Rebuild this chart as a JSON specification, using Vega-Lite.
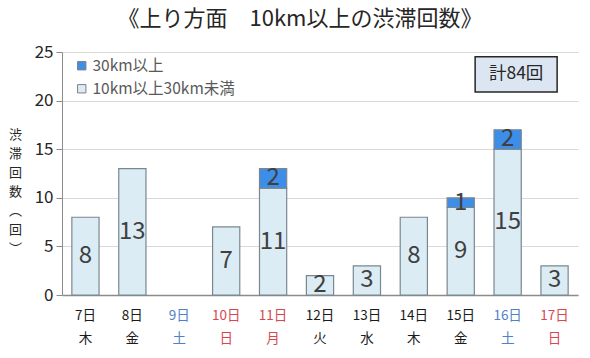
{
  "$schema": "https://vega.github.io/schema/vega-lite/v6.json",
  "width": 516,
  "height": 243,
  "autosize": {"type": "none"},
  "padding": {"left": 62, "top": 52, "right": 12, "bottom": 63},
  "background": "white",
  "config": {
    "font": "Noto Sans CJK JP",
    "view": {"stroke": null},
    "axis": {"font": "Noto Sans CJK JP"}
  },
  "title": {
    "text": "《上り方面　10km以上の渋滞回数》",
    "fontSize": 22,
    "fontWeight": "normal",
    "color": "#262626",
    "anchor": "middle",
    "offset": 12,
    "dx": -20
  },
  "data": {
    "values": [
      {"day": "7日 木", "type": "10km以上30km未満", "count": 8},
      {"day": "8日 金", "type": "10km以上30km未満", "count": 13},
      {"day": "9日 土", "type": "10km以上30km未満", "count": 0},
      {"day": "10日 日", "type": "10km以上30km未満", "count": 7},
      {"day": "11日 月", "type": "10km以上30km未満", "count": 11},
      {"day": "11日 月", "type": "30km以上", "count": 2},
      {"day": "12日 火", "type": "10km以上30km未満", "count": 2},
      {"day": "13日 水", "type": "10km以上30km未満", "count": 3},
      {"day": "14日 木", "type": "10km以上30km未満", "count": 8},
      {"day": "15日 金", "type": "10km以上30km未満", "count": 9},
      {"day": "15日 金", "type": "30km以上", "count": 1},
      {"day": "16日 土", "type": "10km以上30km未満", "count": 15},
      {"day": "16日 土", "type": "30km以上", "count": 2},
      {"day": "17日 日", "type": "10km以上30km未満", "count": 3}
    ]
  },
  "transform": [
    {"stack": "count", "groupby": ["day"], "sort": [{"field": "type", "order": "ascending"}], "as": ["y0", "y1"]},
    {"filter": "datum.count > 0"}
  ],
  "encoding": {
    "x": {
      "field": "day",
      "type": "nominal",
      "sort": null,
      "scale": {
        "domain": ["7日 木", "8日 金", "9日 土", "10日 日", "11日 月", "12日 火", "13日 水", "14日 木", "15日 金", "16日 土", "17日 日"],
        "paddingInner": 0.42,
        "paddingOuter": 0.21
      },
      "axis": {
        "title": null,
        "labelAngle": 0,
        "labelExpr": "split(datum.label, ' ')",
        "labelFontSize": 13.5,
        "labelLineHeight": 23,
        "labelBaseline": "top",
        "labelPadding": 13,
        "ticks": false,
        "domainColor": "#8c8c8c",
        "domainWidth": 1.5,
        "labelColor": {
          "condition": [
            {"test": "indexof(['9日 土','16日 土'], datum.value) >= 0", "value": "#4f81c7"},
            {"test": "indexof(['10日 日','11日 月','17日 日'], datum.value) >= 0", "value": "#d8474f"}
          ],
          "value": "#1a1a1a"
        }
      }
    }
  },
  "layer": [
    {
      "mark": {"type": "bar", "stroke": "#7a8790", "strokeWidth": 1.2},
      "encoding": {
        "y": {
          "field": "y1",
          "type": "quantitative",
          "scale": {"domain": [0, 25], "nice": false},
          "axis": {
            "values": [0, 5, 10, 15, 20, 25],
            "title": ["渋", "滞", "回", "数", "︵", "回", "︶"],
            "titleAngle": 0,
            "titleFontSize": 13,
            "titleFontWeight": "normal",
            "titleLineHeight": 19,
            "titleColor": "#262626",
            "titleX": -47,
            "titleY": 76,
            "titleAlign": "center",
            "titleBaseline": "top",
            "labelFontSize": 17,
            "labelColor": "#262626",
            "labelPadding": 3,
            "tickSize": 6,
            "tickColor": "#8c8c8c",
            "domainColor": "#8c8c8c",
            "gridColor": "#d9d9d9",
            "gridWidth": 1.2
          }
        },
        "y2": {"field": "y0"},
        "color": {
          "field": "type",
          "type": "nominal",
          "scale": {"domain": ["30km以上", "10km以上30km未満"], "range": ["#3d8ee8", "#dbecf5"]},
          "legend": {
            "title": null,
            "orient": "none",
            "legendX": 12,
            "legendY": 6,
            "symbolType": "square",
            "symbolSize": 70,
            "symbolStrokeColor": "#7f7f7f",
            "symbolStrokeWidth": 1,
            "labelFontSize": 15.5,
            "labelColor": "#595959",
            "rowPadding": 6,
            "labelOffset": 3
          }
        }
      }
    },
    {
      "mark": {
        "type": "text",
        "fontSize": 24,
        "color": "#404040",
        "baseline": "middle",
        "yOffset": {"expr": "(scale('y', datum.y0) - scale('y', datum.y1)) / 2"}
      },
      "encoding": {
        "y": {"field": "y1", "type": "quantitative"},
        "text": {"field": "count", "type": "quantitative"}
      }
    },
    {
      "data": {"values": [{"label": "計84回"}]},
      "transform": [],
      "mark": {
        "type": "point",
        "shape": "M-1,-0.43L1,-0.43L1,0.43L-1,0.43Z",
        "size": 6724,
        "filled": true,
        "fill": "#dce6f2",
        "stroke": "#262626",
        "strokeWidth": 1.5,
        "opacity": 1,
        "xOffset": 8.5
      },
      "encoding": {
        "x": {"datum": "16日 土"},
        "y": {"datum": 22.69}
      }
    },
    {
      "data": {"values": [{"label": "計84回"}]},
      "transform": [],
      "mark": {"type": "text", "fontSize": 17.5, "color": "#262626", "xOffset": 8.5, "baseline": "middle"},
      "encoding": {
        "x": {"datum": "16日 土"},
        "y": {"datum": 22.69},
        "text": {"field": "label"}
      }
    }
  ]
}
